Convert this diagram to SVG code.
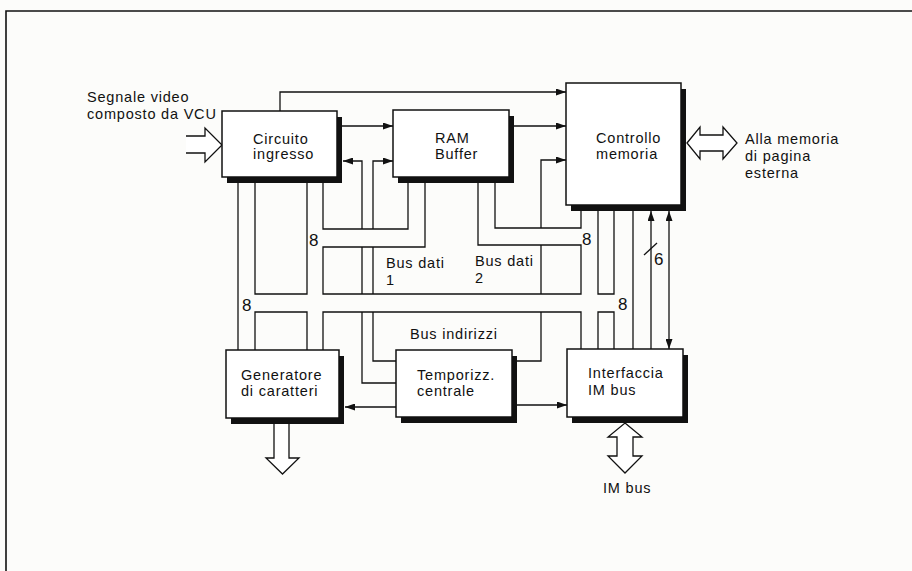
<svg xmlns="http://www.w3.org/2000/svg" width="912" height="571" viewBox="0 0 912 571">
<defs>
<marker id="ah" markerWidth="10" markerHeight="7" refX="10" refY="3.5" orient="auto-start-reverse" markerUnits="userSpaceOnUse"><path d="M0,0 L10,3.5 L0,7 z" fill="#111"/></marker>
</defs>
<style>
.ln{fill:none;stroke:#111;stroke-width:1.3}
.sg{fill:none;stroke:#111;stroke-width:1.3;marker-end:url(#ah)}
.bx{fill:#fff;stroke:#111;stroke-width:1.5}
.sh{fill:#111}
.ha{fill:#fff;stroke:#111;stroke-width:1.3;stroke-linejoin:miter}
.t{font-family:"Liberation Sans",Arial,sans-serif;font-size:14.5px;letter-spacing:0.8px;fill:#111}
.n{font-family:"Liberation Sans",Arial,sans-serif;font-size:17px;fill:#111}
</style>
<rect x="0" y="0" width="912" height="571" fill="#fcfcfa"/>
<path d="M6,571 V11 H912" fill="none" stroke="#111" stroke-width="1.6"/>

<g id="connectors">
  <!-- signal lines -->
  <path class="sg" d="M280,111 V92 H566"/>
  <path class="sg" d="M342,126 H393"/>
  <path class="sg" d="M514,126 H566"/>
  <path class="sg" d="M396,383 H362 V312 M362,294 V247 M362,229 V161 H343"/>
  <path class="sg" d="M396,361 H373 V312 M373,294 V247 M373,229 V161 H393"/>
  <path class="sg" d="M517,361 H541 V312 M541,294 V245 M541,228 V160 H566"/>
  <path class="sg" d="M396,407 H345"/>
  <path class="sg" d="M517,405 H567"/>
  <path class="sg" d="M651,349 V211"/>
  <path class="sg" d="M669,211 V349" style="marker-start:url(#ah)"/>
  <!-- pipe A -->
  <path class="ln" d="M238,183 V350"/>
  <path class="ln" d="M255,183 V294 H307 V183"/>
  <path class="ln" d="M255,350 V312 H307 V350"/>
  <!-- pipe B and bus dati 1 -->
  <path class="ln" d="M323,183 V229 H408 V183"/>
  <path class="ln" d="M425,183 V247 H323 V294 H581 V245 H478 V183"/>
  <path class="ln" d="M495,183 V228 H581 V211"/>
  <path class="ln" d="M323,350 V312 H581 V349"/>
  <!-- right pipes -->
  <path class="ln" d="M598,211 V294 H614 V211"/>
  <path class="ln" d="M598,349 V312 H614 V349"/>
  <path class="ln" d="M633,211 V349"/>
  <!-- 6-bit slash -->
  <path class="ln" d="M644,255 L657,243"/>
  <!-- hollow arrows -->
  <path class="ha" d="M186,136 H205 V128 L222,145 L205,162 V153 H186"/>
  <path class="ha" d="M687,143 L700,127 V135 H723 V127 L737,143 L723,159 V151 H700 V159 Z"/>
  <path class="ha" d="M274,424 V458 H266 L282.5,474 L299,458 H289 V424"/>
  <path class="ha" d="M625,423 L642,437 H633 V456 H642 L625,473 L608,456 H617 V437 H608 Z"/>
</g>

<g id="circuito">
  <rect class="sh" x="227" y="117" width="115" height="66"/>
  <rect class="bx" x="222" y="111" width="115" height="66"/>
  <text class="t" x="253" y="144">Circuito</text>
  <text class="t" x="253" y="159">ingresso</text>
</g>
<g id="ram">
  <rect class="sh" x="398" y="116" width="116" height="67"/>
  <rect class="bx" x="393" y="110" width="116" height="67"/>
  <text class="t" x="435" y="143">RAM</text>
  <text class="t" x="435" y="159">Buffer</text>
</g>
<g id="controllo">
  <rect class="sh" x="571" y="89" width="115" height="122"/>
  <rect class="bx" x="566" y="83" width="115" height="122"/>
  <text class="t" x="596" y="143">Controllo</text>
  <text class="t" x="596" y="159">memoria</text>
</g>
<g id="generatore">
  <rect class="sh" x="231" y="356" width="113" height="68"/>
  <rect class="bx" x="226" y="350" width="113" height="68"/>
  <text class="t" x="241" y="380">Generatore</text>
  <text class="t" x="241" y="396">di caratteri</text>
</g>
<g id="temporizz">
  <rect class="sh" x="401" y="356" width="116" height="67"/>
  <rect class="bx" x="396" y="350" width="116" height="67"/>
  <text class="t" x="417" y="380">Temporizz.</text>
  <text class="t" x="417" y="396">centrale</text>
</g>
<g id="interfaccia">
  <rect class="sh" x="572" y="355" width="116" height="68"/>
  <rect class="bx" x="567" y="349" width="116" height="68"/>
  <text class="t" x="588" y="378">Interfaccia</text>
  <text class="t" x="588" y="395">IM bus</text>
</g>

<g id="labels">
  <text class="t" x="87" y="102">Segnale video</text>
  <text class="t" x="87" y="119">composto da VCU</text>
  <text class="t" x="745" y="144">Alla memoria</text>
  <text class="t" x="745" y="161">di pagina</text>
  <text class="t" x="745" y="178">esterna</text>
  <text class="t" x="603" y="493">IM bus</text>
  <text class="t" x="386" y="268">Bus dati</text>
  <text class="t" x="386" y="285">1</text>
  <text class="t" x="475" y="266">Bus dati</text>
  <text class="t" x="475" y="283">2</text>
  <text class="t" x="410" y="339">Bus indirizzi</text>
  <text class="n" x="309" y="246">8</text>
  <text class="n" x="242" y="311">8</text>
  <text class="n" x="582" y="245">8</text>
  <text class="n" x="618" y="310">8</text>
  <text class="n" x="654" y="265">6</text>
</g>
</svg>
